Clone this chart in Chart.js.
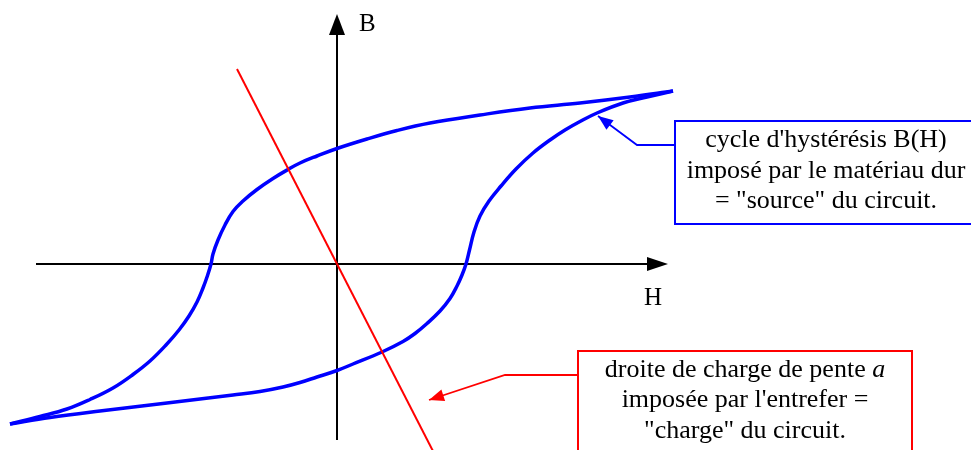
<!DOCTYPE html>
<html>
<head>
<meta charset="utf-8">
<script src="https://cdn.jsdelivr.net/npm/chart.js@4.4.0/dist/chart.umd.min.js"></script>
<style>
  html, body { margin: 0; padding: 0; background: #fff; }
  #wrap { width: 971px; height: 450px; }
</style>
</head>
<body>
<div id="wrap"><canvas id="chart" width="971" height="450"></canvas></div>
<script>
// Hysteresis loop, H and B in arbitrary units
// (origin where the two axes cross)

// descending branch, from the right tip to the left tip
const upperH = [3.36, 2.93, 2.43, 1.93, 1.43, 0.93, 0.60, 0.30, 0.00, -0.20,
    -0.37, -0.49, -0.64, -0.80, -0.94, -1.04, -1.12, -1.19, -1.24, -1.26,
    -1.30, -1.34, -1.40, -1.48, -1.58, -1.71, -1.87, -2.04, -2.24, -2.47,
    -2.70, -2.97, -3.27];
const upperB = [1.73, 1.67, 1.61, 1.56, 1.49, 1.41, 1.335, 1.25, 1.155, 1.08,
    1.01, 0.945, 0.855, 0.745, 0.63, 0.525, 0.39, 0.24, 0.10, 0.00,
    -0.13, -0.24, -0.38, -0.52, -0.66, -0.81, -0.97, -1.105, -1.24, -1.355,
    -1.45, -1.525, -1.60];

// ascending branch, from the left tip to the right tip
const lowerH = [-3.27, -2.87, -2.37, -1.70, -1.04, -0.77, -0.54, -0.37, -0.20, 0.00,
    0.16, 0.45, 0.66, 0.78, 0.90, 1.03, 1.13, 1.20, 1.25, 1.29,
    1.325, 1.37, 1.43, 1.52, 1.64, 1.79, 1.96, 2.13, 2.28, 2.43,
    2.60, 2.86, 3.10, 3.36];
const lowerB = [-1.60, -1.535, -1.47, -1.39, -1.31, -1.275, -1.23, -1.185, -1.13, -1.065,
    -1.00, -0.88, -0.775, -0.695, -0.595, -0.47, -0.345, -0.22, -0.11, 0.00,
    0.14, 0.32, 0.48, 0.63, 0.78, 0.95, 1.11, 1.24, 1.34, 1.425,
    1.51, 1.61, 1.67, 1.73];

const loadH = [-1.00, 0.98];
const loadB = [1.95, -1.91];

// axis extents
const axisH = [-3.01, 3.31];
const axisB = [-1.76, 2.50];

const sourceLines = ["cycle d'hystérésis B(H)", "imposé par le matériau dur", "= \"source\" du circuit."];
const chargeLines = [["droite de charge de pente ", "a"], ["imposée par l'entrefer ="], ["\"charge\" du circuit."]];

const BLUE = '#0000ff';
const RED = '#ff0000';
const FONT = '"Liberation Serif", "Times New Roman", serif';

function toPoints(xs, ys) {
    return xs.map((x, i) => ({ x: x, y: ys[i] }));
}

function arrowHead(ctx, x1, y1, x2, y2, len, half) {
    const a = Math.atan2(y2 - y1, x2 - x1);
    const bx = x2 - len * Math.cos(a);
    const by = y2 - len * Math.sin(a);
    ctx.beginPath();
    ctx.moveTo(x2, y2);
    ctx.lineTo(bx + half * Math.sin(a), by - half * Math.cos(a));
    ctx.lineTo(bx - half * Math.sin(a), by + half * Math.cos(a));
    ctx.closePath();
    ctx.fill();
}

// axes with arrows, drawn under the curves
const axesPlugin = {
    id: 'axes',
    beforeDatasetsDraw(chart) {
        const { ctx, scales: { x, y } } = chart;
        const x0 = x.getPixelForValue(0), y0 = y.getPixelForValue(0);
        const hl = x.getPixelForValue(axisH[0]), hr = x.getPixelForValue(axisH[1]);
        const vb = y.getPixelForValue(axisB[0]), vt = y.getPixelForValue(axisB[1]);
        ctx.save();
        ctx.strokeStyle = '#000';
        ctx.fillStyle = '#000';
        ctx.lineWidth = 2;
        ctx.beginPath();
        ctx.moveTo(hl, y0); ctx.lineTo(hr - 12, y0);
        ctx.moveTo(x0, vb); ctx.lineTo(x0, vt + 12);
        ctx.stroke();
        arrowHead(ctx, hl, y0, hr, y0, 21, 7);
        arrowHead(ctx, x0, vb, x0, vt, 21, 8);

        ctx.font = '25px ' + FONT;
        ctx.textBaseline = 'alphabetic';
        ctx.textAlign = 'left';
        ctx.fillText('B', x.getPixelForValue(0.22), y.getPixelForValue(2.33));
        ctx.fillText('H', x.getPixelForValue(3.07), y.getPixelForValue(-0.41));
        ctx.restore();
    }
};

function drawCallout(chart, opt) {
    const { ctx, scales: { x, y } } = chart;
    const px = v => x.getPixelForValue(v);
    const py = v => y.getPixelForValue(v);
    ctx.save();
    ctx.strokeStyle = opt.color;
    ctx.fillStyle = opt.color;

    // box
    ctx.lineWidth = 2;
    const bl = px(opt.box[0]), bt = py(opt.box[1]), br = px(opt.box[2]), bb = py(opt.box[3]);
    ctx.strokeRect(bl, bt, br - bl, bb - bt);

    // leader line with arrow
    ctx.lineWidth = 1.8;
    const pts = opt.leader.map(p => [px(p[0]), py(p[1])]);
    ctx.beginPath();
    ctx.moveTo(pts[0][0], pts[0][1]);
    for (let i = 1; i < pts.length; i++) ctx.lineTo(pts[i][0], pts[i][1]);
    ctx.stroke();
    const n = pts.length;
    arrowHead(ctx, pts[n - 2][0], pts[n - 2][1], pts[n - 1][0], pts[n - 1][1], 15, 6);

    // text, centred
    ctx.fillStyle = '#000';
    ctx.textBaseline = 'alphabetic';
    ctx.textAlign = 'left';
    const cx = px(opt.textX);
    opt.lines.forEach((parts, i) => {
        if (typeof parts === 'string') parts = [parts];
        const fonts = parts.map((p, j) => (j === 1 ? 'italic ' : '') + opt.size + 'px ' + FONT);
        let w = 0;
        parts.forEach((p, j) => { ctx.font = fonts[j]; w += ctx.measureText(p).width; });
        let tx = cx - w / 2;
        const ty = py(opt.baselines[i]);
        parts.forEach((p, j) => {
            ctx.font = fonts[j];
            ctx.fillText(p, tx, ty);
            tx += ctx.measureText(p).width;
        });
    });
    ctx.restore();
}

const calloutPlugin = {
    id: 'callouts',
    afterDatasetsDraw(chart) {
        drawCallout(chart, {
            color: BLUE,
            box: [3.38, 1.43, 6.43, 0.40],
            leader: [[3.38, 1.19], [3.00, 1.19], [2.61, 1.48]],
            textX: 4.89,
            baselines: [1.17, 0.86, 0.56],
            lines: sourceLines,
            size: 26
        });
        drawCallout(chart, {
            color: RED,
            box: [2.41, -0.87, 5.75, -1.98],
            leader: [[2.41, -1.11], [1.68, -1.11], [0.92, -1.36]],
            textX: 4.08,
            baselines: [-1.13, -1.43, -1.74],
            lines: chargeLines,
            size: 26
        });
    }
};

document.addEventListener('DOMContentLoaded', function() {
    const ctx = document.getElementById('chart').getContext('2d');
    new Chart(ctx, {
        type: 'line',
        data: {
            datasets: [
                {
                    label: 'droite de charge',
                    data: toPoints(loadH, loadB),
                    borderColor: RED,
                    borderWidth: 2,
                    tension: 0
                },
                {
                    label: 'branche descendante',
                    data: toPoints(upperH, upperB),
                    borderColor: BLUE,
                    borderWidth: 3.5,
                    tension: 0.4
                },
                {
                    label: 'branche montante',
                    data: toPoints(lowerH, lowerB),
                    borderColor: BLUE,
                    borderWidth: 3.5,
                    tension: 0.4
                }
            ]
        },
        options: {
            responsive: false,
            animation: false,
            layout: { padding: 0 },
            elements: { point: { radius: 0 }, line: { fill: false, capBezierPoints: false } },
            plugins: { legend: { display: false }, tooltip: { enabled: false } },
            scales: {
                x: { type: 'linear', display: false, min: -3.37, max: 6.34 },
                y: { type: 'linear', display: false, min: -1.86, max: 2.64 }
            }
        },
        plugins: [axesPlugin, calloutPlugin]
    });
});
</script>
</body>
</html>
